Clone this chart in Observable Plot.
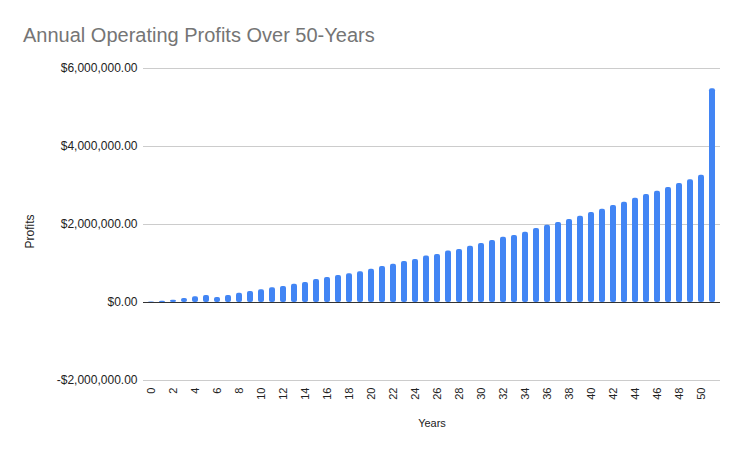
<!DOCTYPE html>
<html>
<head>
<meta charset="utf-8">
<script src="https://cdn.jsdelivr.net/npm/d3@7"></script>
<script src="https://cdn.jsdelivr.net/npm/@observablehq/plot@0.6"></script>
<style>
  body { margin: 0; background: #fff; font-family: "Liberation Sans", Arial, sans-serif; }
  #wrap { position: relative; width: 741px; height: 455px; }
  #title { position: absolute; left: 23px; top: 24px; font-size: 20px; color: #757575; }
  svg { display: block; }
</style>
</head>
<body>
<div id="wrap"><div id="title">Annual Operating Profits Over 50-Years</div></div>
<script>
const years = d3.range(0, 52);
const profits = [
  10000, 30000, 60000, 100000, 150000, 180000, 130000, 180000, 240000, 280000,
  330000, 380000, 410000, 470000, 510000, 590000, 640000, 690000, 740000, 790000,
  850000, 920000, 980000, 1050000, 1100000, 1190000, 1230000, 1320000, 1360000, 1440000,
  1510000, 1590000, 1670000, 1720000, 1800000, 1900000, 1980000, 2050000, 2130000, 2210000,
  2310000, 2390000, 2490000, 2570000, 2670000, 2770000, 2850000, 2950000, 3050000, 3150000,
  3260000, 5480000
];
const yTicks = [-2000000, 0, 2000000, 4000000, 6000000];
const xTicks = years.filter(d => d % 2 === 0);
const data = years.map((y, i) => ({year: y, profit: profits[i]}));
const money = d => (d < 0 ? "-$" : "$") + d3.format(",.2f")(Math.abs(d));

const chart = Plot.plot({
  width: 741,
  height: 455,
  marginLeft: 143,
  marginRight: 21,
  marginTop: 68,
  marginBottom: 75,
  style: {fontFamily: "Liberation Sans, Arial, sans-serif", color: "#222", background: "#fff"},
  x: {type: "band", domain: years, paddingInner: 0.45, paddingOuter: 0.2},
  y: {domain: [-2000000, 6000000]},
  marks: [
    Plot.gridY(yTicks, {stroke: "#cccccc", strokeOpacity: 1}),
    Plot.barY(data, {x: "year", y: "profit", fill: "#4285F4", rx: 2}),
    Plot.ruleY([0], {stroke: "#333"}),
    Plot.axisY(yTicks, {tickFormat: money, tickSize: 0, tickPadding: 6, fontSize: 12, label: null}),
    Plot.text(["Profits"], {frameAnchor: "left", textAnchor: "middle", dx: -113, dy: 7, rotate: -90, fontSize: 12, fill: "#222"}),
    Plot.axisX(xTicks, {tickSize: 0, tickPadding: 7, tickRotate: -90, fontSize: 11,
      label: "Years", labelAnchor: "center", labelOffset: 46, labelArrow: "none"})
  ]
});
document.getElementById("wrap").prepend(chart);
</script>
</body>
</html>
